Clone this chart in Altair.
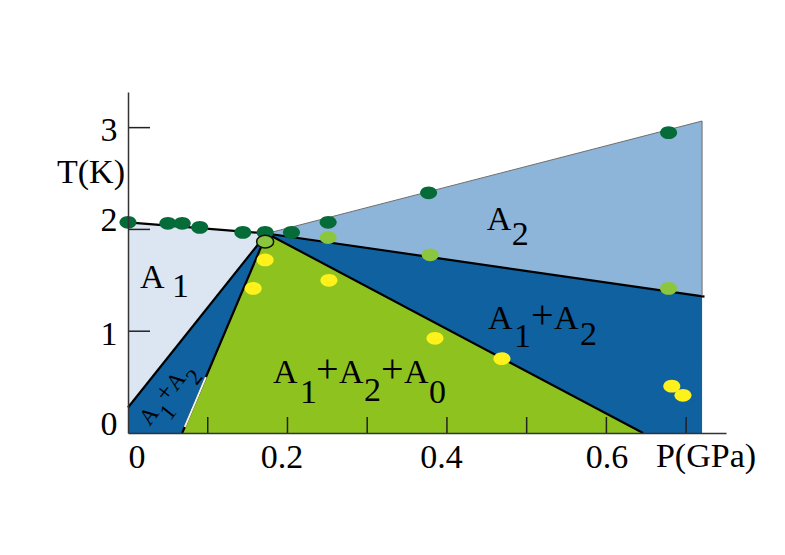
import math
import altair as alt
import pandas as pd

# ---------------- data ----------------
# phase regions (polygon vertices, P in GPa, T in K)
region_names = ["A1", "A1+A2 left", "A1+A2+A0", "A1+A2 right", "A2"]
region_P = [
    [0.0, 0.174, 0.0],
    [0.0, 0.174, 0.068, 0.0],
    [0.068, 0.174, 0.646],
    [0.174, 0.72, 0.72, 0.646],
    [0.174, 0.72, 0.72],
]
region_T = [
    [2.07, 1.96, 0.25],
    [0.25, 1.96, 0.0, 0.0],
    [0.0, 1.96, 0.0],
    [1.96, 1.345, 0.0, 0.0],
    [1.96, 3.065, 1.345],
]
region_colors = ["#dce6f2", "#0f61a0", "#8ec21f", "#0f61a0", "#8db4d9"]

# phase boundaries (black lines)
bound_P = [[0.0, 0.174], [0.0, 0.174], [0.068, 0.174], [0.174, 0.646], [0.174, 0.723]]
bound_T = [[2.07, 1.96], [0.25, 1.96], [0.0, 1.96], [1.96, 0.0], [1.96, 1.34]]
# thin grey outline of the A2 region
edge_P = [0.174, 0.72, 0.72]
edge_T = [1.96, 3.065, 1.345]

# measured points
dark_P = [0.0, 0.050, 0.068, 0.090, 0.144, 0.172, 0.205, 0.251, 0.377, 0.678]
dark_T = [2.07, 2.06, 2.06, 2.02, 1.97, 1.97, 1.97, 2.07, 2.36, 2.95]
light_P = [0.172, 0.251, 0.379, 0.678]
light_T = [1.88, 1.92, 1.75, 1.42]
yellow_P = [0.172, 0.157, 0.252, 0.385, 0.469, 0.682, 0.696]
yellow_T = [1.70, 1.42, 1.50, 0.93, 0.73, 0.46, 0.37]
point_colors = {"dark": "#056b38", "light": "#8cc63e", "yellow": "#fff21c"}

x_tick_labels = [0, 0.2, 0.4, 0.6]
x_minor_ticks = [0.1, 0.2, 0.3, 0.4, 0.5, 0.6, 0.7]
y_tick_labels = [0, 1, 2, 3]
y_minor_ticks = [1, 2, 3]

# ---------------- layout ----------------
W, H = 598, 341
XMAX, YMAX = 0.75, 3.35
SX, SY = W / XMAX, H / YMAX
FONT = "Liberation Serif"
FS = 34
FS_PLUS = 40

x_axis = alt.Axis(
    values=x_tick_labels,
    labelExpr="datum.value == 0 ? '0' : format(datum.value, '.1f')",
    ticks=False, grid=False, domainColor="#333333", domainWidth=1.5,
    labelFont=FONT, labelFontSize=FS, labelColor="black", labelPadding=7,
    labelBaseline="top",
    labelOffset={"condition": {"test": "datum.value == 0.2 || datum.value == 0.4", "value": -6}, "value": 0},
    title=None, zindex=1,
)
y_axis = alt.Axis(
    values=y_tick_labels,
    ticks=False, grid=False, domainColor="#333333", domainWidth=1.5,
    labelFont=FONT, labelFontSize=FS, labelColor="black", labelPadding=11,
    labelBaseline="middle",
    labelOffset={"condition": {"test": "datum.value == 0 || datum.value == 2", "value": -9}, "value": 3},
    title=None, zindex=1,
)
xs = alt.Scale(domain=[0, XMAX], nice=False, zero=False)
ys = alt.Scale(domain=[0, YMAX], nice=False, zero=False)
X = alt.X("P:Q", scale=xs, axis=x_axis)
Y = alt.Y("T:Q", scale=ys, axis=y_axis)

# ---------------- tables ----------------
reg_rows = []
for name, col, ps, ts in zip(region_names, region_colors, region_P, region_T):
    for i, (p, t) in enumerate(zip(ps, ts)):
        reg_rows.append({"region": name, "col": col, "i": i, "P": p, "T": t})
reg_df = pd.DataFrame(reg_rows)

b_rows = []
for k, (ps, ts) in enumerate(zip(bound_P, bound_T)):
    for i, (p, t) in enumerate(zip(ps, ts)):
        b_rows.append({"seg": k, "i": i, "P": p, "T": t})
b_df = pd.DataFrame(b_rows)

# light part of the lower A1+A2 / A1+A2+A0 boundary
p0, t0 = bound_P[2][0], bound_T[2][0]
p1, t1 = bound_P[2][1], bound_T[2][1]
w_df = pd.DataFrame([
    {"i": 0, "P": p0 + 0.03 * (p1 - p0), "T": t0 + 0.03 * (t1 - t0)},
    {"i": 1, "P": p0 + 0.28 * (p1 - p0), "T": t0 + 0.28 * (t1 - t0)},
])

e_df = pd.DataFrame({"i": range(len(edge_P)), "P": edge_P, "T": edge_T})

pt_rows = []
for p, t in zip(dark_P, dark_T):
    pt_rows.append({"kind": "dark", "P": p, "T": t, "outline": False})
for j, (p, t) in enumerate(zip(light_P, light_T)):
    pt_rows.append({"kind": "light", "P": p, "T": t, "outline": j == 0})
for p, t in zip(yellow_P, yellow_T):
    pt_rows.append({"kind": "yellow", "P": p, "T": t, "outline": False})
pt_df = pd.DataFrame(pt_rows)
pt_df["col"] = pt_df["kind"].map(point_colors)

xt_df = pd.DataFrame({"P": x_minor_ticks})
yt_df = pd.DataFrame({"T": y_minor_ticks})


def pieces(P0, T0, angle, parts, fs, fs_plus):
    th = math.radians(angle)
    ux, uy = math.cos(th), math.sin(th)
    vx, vy = -math.sin(th), math.cos(th)
    out = []
    for txt, a, b in parts:
        ox, oy = a * ux + b * vx, a * uy + b * vy
        out.append({"P": P0 + ox / SX, "T": T0 - oy / SY, "txt": txt,
                    "fs": fs_plus if txt == "+" else fs})
    return out


lab_rows = []
lab_rows += pieces(0.015, 1.425, 0, [("A", 0, 0), ("1", 32, 9)], FS, FS_PLUS)
lab_rows += pieces(0.450, 1.994, 0, [("A", 0, 0), ("2", 25, 15)], FS, FS_PLUS)
lab_rows += pieces(0.4515, 1.022, 0, [("A", 0, 0), ("1", 26, 18), ("+", 43, -1),
                                      ("A", 66, 0), ("2", 92, 16)], FS, FS_PLUS)
lab_rows += pieces(0.182, 0.491, 0, [("A", 0, 0), ("1", 27, 20), ("+", 43, -1), ("A", 66, 0),
                                     ("2", 91, 18), ("+", 108, -1), ("A", 131, 0), ("0", 156, 20)],
                   FS, FS_PLUS)
lab_df = pd.DataFrame(lab_rows)
rot_df = pd.DataFrame(pieces(0.027, 0.062, -52, [("A", 0, 0), ("1", 17, 13), ("+", 29, -1),
                                                 ("A", 44, 0), ("2", 61, 12)], 23, 26))

ELLIPSE = "M-1,0A1,0.75,0,1,1,1,0A1,0.75,0,1,1,-1,0Z"

# ---------------- layers ----------------
regions = alt.Chart(reg_df).mark_line(strokeWidth=0, strokeOpacity=0).encode(
    x=X, y=Y,
    fill=alt.Fill("col:N", scale=None, legend=None),
    detail="region:N", order="i:Q",
)
bounds = alt.Chart(b_df).mark_line(color="black", strokeWidth=2.2).encode(
    x=X, y=Y, detail="seg:N", order="i:Q")
white_seg = alt.Chart(w_df).mark_line(color="#eef3e0", strokeWidth=2).encode(x=X, y=Y, order="i:Q")
edges = alt.Chart(e_df).mark_line(color="#6e6e6e", strokeWidth=1).encode(x=X, y=Y, order="i:Q")

xticks = alt.Chart(xt_df).mark_rule(color="#222222", strokeWidth=1.5).encode(
    x=X, y=alt.value(H), y2=alt.value(H - 16))
yticks = alt.Chart(yt_df).mark_rule(color="#222222", strokeWidth=1.5).encode(
    y=Y, x=alt.value(0), x2=alt.value(22))

points = alt.Chart(pt_df).mark_point(filled=True, shape=ELLIPSE, size=290, opacity=1, strokeWidth=1.5).encode(
    x=X, y=Y,
    fill=alt.Fill("col:N", scale=None, legend=None),
    stroke=alt.condition("datum.outline", alt.value("#111111"), alt.value("transparent")),
)

labels = alt.Chart(lab_df).mark_text(font=FONT, align="left", baseline="alphabetic",
                                     color="black").encode(
    x=X, y=Y, text="txt:N", size=alt.Size("fs:Q", scale=None, legend=None))
rot_labels = alt.Chart(rot_df).mark_text(font=FONT, align="left", baseline="alphabetic",
                                         angle=308, color="black").encode(
    x=X, y=Y, text="txt:N", size=alt.Size("fs:Q", scale=None, legend=None))

titles_df = pd.DataFrame({"txt": ["T(K)", "P(GPa)"]})
t_title = alt.Chart(titles_df).transform_filter("datum.txt == 'T(K)'").mark_text(
    font=FONT, fontSize=FS, align="center", baseline="alphabetic", color="black").encode(
    x=alt.value(-37), y=alt.value(91), text="txt:N")
p_title = alt.Chart(titles_df).transform_filter("datum.txt == 'P(GPa)'").mark_text(
    font=FONT, fontSize=FS, align="center", baseline="alphabetic", color="black").encode(
    x=alt.value(578), y=alt.value(375), text="txt:N")

chart = alt.layer(
    regions, bounds, white_seg, edges, xticks, yticks, points, labels, rot_labels, t_title, p_title
).properties(
    width=W, height=H,
    background="white",
    autosize=alt.AutoSizeParams(type="none"),
    padding={"left": 120, "top": 84, "right": 51, "bottom": 100},
).configure_view(stroke=None)

chart.save("out.html", embed_options={"renderer": "svg", "actions": False})
